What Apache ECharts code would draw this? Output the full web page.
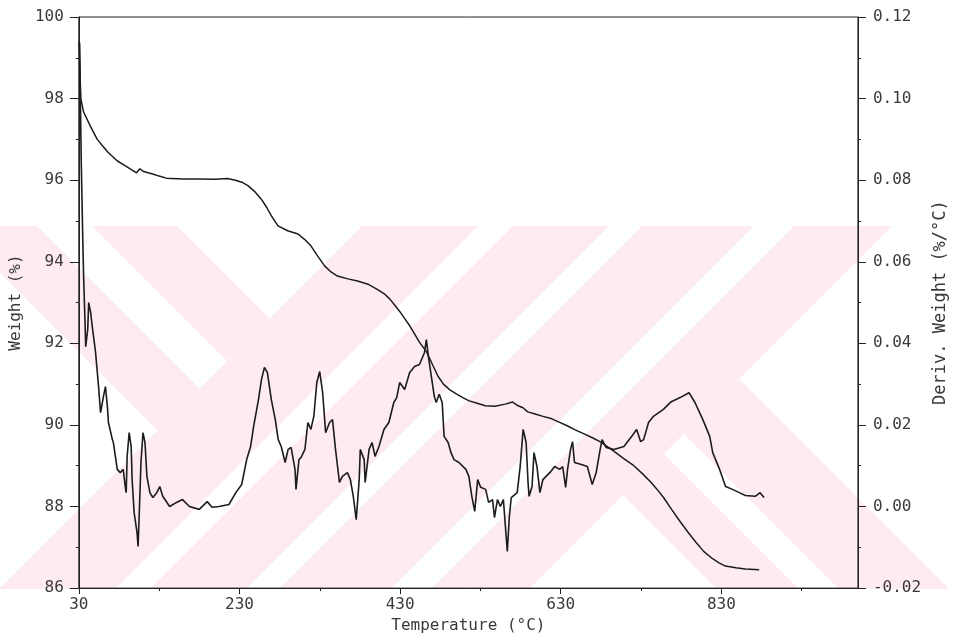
<!DOCTYPE html>
<html><head><meta charset="utf-8">
<script src="https://cdn.jsdelivr.net/npm/echarts@6/dist/echarts.min.js"></script>
<style>html,body{margin:0;padding:0;background:#fff}#c{width:957px;height:639px}</style>
</head><body><div id="c"></div>
<script>
// ---- data ----
const weightTemp = [30.5,31.5,32.5,36,45,53,60,66,72,78,88,98,102,106,110,116,122,130,139,160,180,200,215,225,233,241,249,257,264,270,278,290,303,311,319,327,336,344,352,365,377,390,401,410,417,424,430,436,442,448,454,463,471,477,484,492,500,508,516,526,536,548,561,570,577,583,589,598,608,619,628,638,648,659,670,680,688,696,708,721,732,742,750,758,768,779,788,798,808,819,827,835,848,860,877];
const weightPct  = [99.4,98.6,98.0,97.67,97.3,97.0,96.83,96.69,96.58,96.47,96.35,96.23,96.18,96.28,96.22,96.18,96.15,96.1,96.05,96.03,96.03,96.02,96.04,96.0,95.95,95.86,95.72,95.54,95.33,95.12,94.88,94.76,94.68,94.55,94.39,94.15,93.9,93.75,93.65,93.58,93.53,93.45,93.33,93.22,93.09,92.92,92.77,92.6,92.43,92.23,92.03,91.79,91.45,91.2,91.0,90.86,90.76,90.67,90.59,90.53,90.47,90.46,90.51,90.56,90.47,90.42,90.32,90.27,90.21,90.15,90.07,89.98,89.88,89.78,89.68,89.58,89.47,89.36,89.18,89.0,88.8,88.6,88.42,88.22,87.93,87.62,87.38,87.13,86.9,86.72,86.62,86.54,86.5,86.47,86.45];

const derivTemp = [31,33,35,36.1,37.4,38.6,41.1,42.3,44.8,47.2,50.9,54.6,57.1,60.7,63.2,65.6,66.9,71.8,73,77.9,81.6,85.3,87.8,89,90.2,92.7,95.2,96.4,98.9,102.5,103.8,105,107.4,109.9,112.4,114.8,118.5,122.2,127.1,130.8,134.5,143.1,151.7,159.1,167.7,180,189.8,196,204.6,216.9,225.5,232.8,239,243.9,247.6,253.7,257.4,261.1,264.8,269.7,274.6,278.3,282,286.9,290.6,294.3,299.2,300.4,304.1,306.6,311.5,315.2,318.9,322.6,326.3,329.9,333.6,337.3,342.2,345.9,349.6,354.5,358.2,364.4,368.1,371.7,375.4,379.1,380.4,385.3,386.5,391.4,395.1,398.8,403.7,409.9,416,422.2,425.8,429.5,435.7,441.8,448,454.1,460.3,462.7,465.2,468.9,472.6,475,478.7,482.4,483.6,484.8,489.8,493.4,497.1,503.3,511.9,515.6,519.3,522.9,526.6,530.3,536.5,540.2,545.1,547.5,551.2,554.9,558.6,561.1,563.5,566,568.4,575.8,579.5,583.2,586.9,589.3,590.6,594.3,596.7,600.4,604.1,607.8,616.4,622.5,628.7,632.4,636.1,638.5,642.2,644.7,647.1,655.7,663.1,669.2,674.1,679.1,681.5,686.4,696.3,708.6,718.4,724.5,729.5,733.2,739.3,745.4,757.8,767.6,778.6,789.7,797.1,806.9,815.5,819.2,827.8,835.2,843.8,852.4,859.8,872.1,878.2,883.1];
const derivVal  = [0.1137,0.085,0.065,0.0556,0.0475,0.0392,0.0434,0.05,0.0475,0.0434,0.0377,0.0294,0.023,0.027,0.0294,0.0245,0.0206,0.0164,0.0157,0.0091,0.0083,0.0091,0.0049,0.0034,0.0123,0.0181,0.0147,0.0066,-0.0015,-0.0064,-0.0098,-0.0032,0.0108,0.0181,0.0157,0.0074,0.0034,0.0022,0.0034,0.0049,0.0025,0.0,0.001,0.0017,0.0,-0.0007,0.0012,-0.0002,0.0,0.0005,0.0034,0.0054,0.0115,0.0147,0.0196,0.0262,0.0311,0.0341,0.0328,0.0262,0.0213,0.0164,0.0147,0.0108,0.014,0.0145,0.0091,0.0042,0.0115,0.012,0.014,0.0206,0.0189,0.0221,0.0304,0.0331,0.0279,0.0181,0.0206,0.0213,0.014,0.0059,0.0074,0.0083,0.0066,0.0025,-0.0032,0.0066,0.014,0.0115,0.0059,0.014,0.0157,0.0123,0.0147,0.0189,0.0206,0.0255,0.0267,0.0304,0.0287,0.0328,0.0343,0.0348,0.0377,0.0409,0.0368,0.0319,0.027,0.0255,0.0275,0.0255,0.0213,0.0172,0.0157,0.0132,0.0115,0.0108,0.0091,0.0074,0.0025,-0.0012,0.0066,0.0047,0.0042,0.001,0.0017,-0.0027,0.0017,0.0,0.0017,-0.0049,-0.011,-0.0025,0.0022,0.0034,0.0098,0.0189,0.0157,0.0059,0.0025,0.0049,0.0132,0.0098,0.0034,0.0066,0.0083,0.0098,0.0091,0.0098,0.0047,0.0091,0.014,0.0159,0.0108,0.0103,0.0098,0.0054,0.0083,0.014,0.0164,0.0145,0.014,0.0147,0.0172,0.0189,0.0159,0.0164,0.0206,0.0221,0.0238,0.0257,0.0267,0.0279,0.0255,0.0213,0.0172,0.0132,0.0091,0.0049,0.0042,0.0034,0.0027,0.0025,0.0034,0.0022];

const xLabelTicks = [30,230,430,630,830];
const xMinorTicks = [130,330,530,730,930];
const weightTicks = [86,88,90,92,94,96,98,100];
const derivTicks  = [-0.02,0.00,0.02,0.04,0.06,0.08,0.10,0.12];

// ---- decoration (watermark) ----
const pink = '#fdebef';
const wm = [
  {p:[[-47,226],[177,226],[269.5,318.5],[157.5,430.5]], f:pink},
  {p:[[362,226],[609,226],[246,589],[-1,589]], f:pink},
  {p:[[642,226],[892,226],[529,589],[279,589]], f:pink},
  {p:[[623,495],[739,379],[949,589],[717,589]], f:pink},
  {p:[[37,226],[92,226],[227,361],[199.5,388.5]], f:'#fff'},
  {p:[[478,226],[513,226],[150,589],[115,589]], f:'#fff'},
  {p:[[754,226],[794,226],[431,589],[391,589]], f:'#fff'},
  {p:[[664,454],[684,434],[839,589],[799,589]], f:'#fff'}
];

const FONT = 'DejaVu Sans Mono';
const TXT = '#3a3a3a';
const AX = '#222';
const lbl = {fontFamily:FONT, fontSize:16, color:TXT};

const chart = echarts.init(document.getElementById('c'), null, {renderer:'canvas'});
chart.setOption({
  animation:false,
  backgroundColor:'#fff',
  graphic: wm.map(w => ({type:'polygon', shape:{points:w.p}, style:{fill:w.f}, z:-10, silent:true})),
  grid:{left:78, right:89, top:17, bottom:50, show:true, borderColor:AX, borderWidth:1, backgroundColor:'transparent'},
  xAxis:[
    {type:'value', min:30, max:1000, position:'bottom',
     axisLine:{show:true, onZero:false, lineStyle:{color:AX, width:1}},
     axisTick:{show:true, length:6, customValues:xLabelTicks, lineStyle:{color:AX}},
     axisLabel:Object.assign({customValues:xLabelTicks, margin:9}, lbl),
     splitLine:{show:false},
     name:'Temperature (°C)', nameLocation:'middle', nameGap:27, nameTextStyle:lbl},
    {type:'value', min:30, max:1000, position:'bottom',
     axisLine:{show:false, onZero:false},
     axisTick:{show:true, length:3, customValues:xMinorTicks, lineStyle:{color:AX}},
     axisLabel:{show:false}, splitLine:{show:false}}
  ],
  yAxis:[
    {type:'value', min:weightTicks[0], max:weightTicks[weightTicks.length-1], interval:2, position:'left',
     axisLine:{show:true, onZero:false, lineStyle:{color:AX, width:1}},
     axisTick:{show:true, length:9, lineStyle:{color:AX}},
     minorTick:{show:true, splitNumber:2, length:3, lineStyle:{color:AX}},
     axisLabel:Object.assign({margin:15}, lbl),
     splitLine:{show:false},
     name:'Weight (%)', nameLocation:'middle', nameGap:52, nameRotate:90, nameTextStyle:lbl},
    {type:'value', min:derivTicks[0], max:derivTicks[derivTicks.length-1], interval:0.02, position:'right',
     axisLine:{show:true, onZero:false, lineStyle:{color:AX, width:1}},
     axisTick:{show:true, length:8, lineStyle:{color:AX}},
     minorTick:{show:true, splitNumber:2, length:3, lineStyle:{color:AX}},
     axisLabel:Object.assign({margin:15, formatter:v => (Math.round(v*100)/100).toFixed(2)}, lbl),
     splitLine:{show:false},
     name:'Deriv. Weight (%/°C)', nameLocation:'middle', nameGap:70, nameRotate:90,
     nameTextStyle:Object.assign({}, lbl, {fontSize:17})}
  ],
  series:[
    {type:'line', xAxisIndex:0, yAxisIndex:0, symbol:'none', z:3,
     lineStyle:{color:'#1c1c1c', width:1.5},
     data: weightTemp.map((t,i)=>[t, weightPct[i]])},
    {type:'line', xAxisIndex:0, yAxisIndex:1, symbol:'none', z:3,
     lineStyle:{color:'#1c1c1c', width:1.6},
     data: derivTemp.map((t,i)=>[t, derivVal[i]])}
  ]
});
</script>
</body></html>
